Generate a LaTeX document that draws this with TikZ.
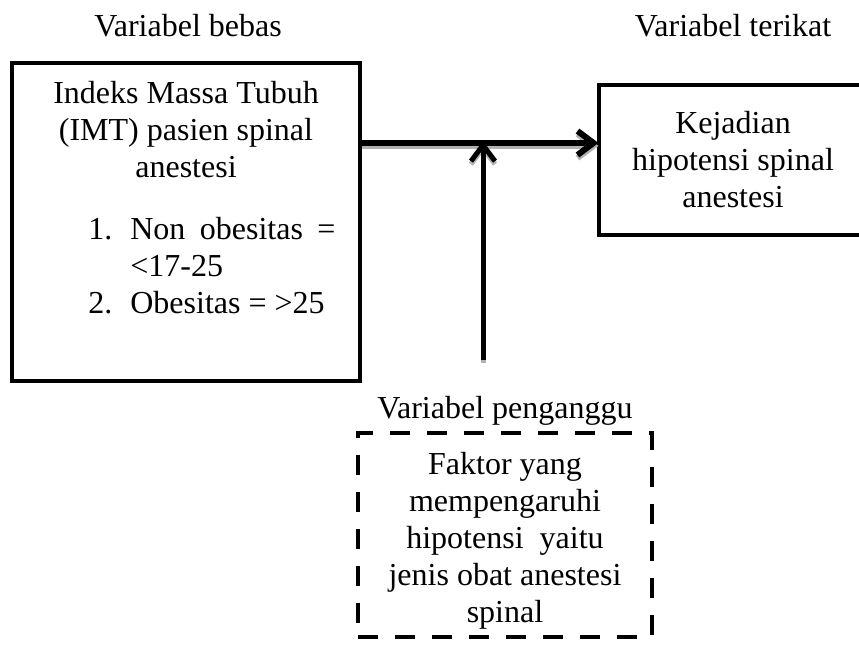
\documentclass[tikz,border=0pt]{standalone}
\usepackage{fontspec}
\setmainfont{Liberation Serif}
\usetikzlibrary{arrows.meta}
\begin{document}
\begin{tikzpicture}[x=.5pt, y=-.5pt, font=\fontsize{16}{18.5}\selectfont, line join=miter,
	kotak/.style={draw, line width=2pt, inner sep=0pt},
	putus/.style={draw, line width=2pt, dash pattern=on 10pt off 8.5pt, inner sep=0pt},
	teks/.style={align=center, inner sep=0pt},
	panah/.style={line width=2.5pt, -{Straight Barb[length=8pt,width=12pt]}},
	bayang/.style={panah, draw=gray!60, transform canvas={yshift=-1.5pt}}]
	\useasboundingbox (0,0) rectangle (859,651);
	% judul variabel
	\node[anchor=base] (bebas) at (188,37) {Variabel bebas};
	\node[anchor=base] (terikat) at (733,37) {Variabel terikat};
	\node[anchor=base] (penganggu) at (505,419) {Variabel penganggu};
	% kotak kiri
	\node[kotak, minimum width=174pt, minimum height=159pt] (imt) at (186,222) {};
	\node[teks, anchor=north] (imtjudul) at (186,81) {Indeks Massa Tubuh\\(IMT) pasien spinal\\anestesi};
	\node[inner sep=0pt, anchor=base west] (imtdaftar) at (88,240) {\begin{tabular}[t]{@{}l@{\hspace{9pt}}l@{}}
		1. & \makebox[102.5pt][s]{Non obesitas =}\\
		   & <17-25\\
		2. & Obesitas = >25
	\end{tabular}};
	% kotak kanan
	\node[kotak, teks, minimum width=134.5pt, minimum height=75pt] (kejadian) at (733,160) {Kejadian\\hipotensi spinal\\anestesi};
	% kotak putus-putus
	\node[putus, minimum width=147pt, minimum height=102pt] (faktor) at (505,535) {};
	\node[teks] (faktorteks) at (505,541) {Faktor yang\\mempengaruhi\\hipotensi\ \ yaitu\\jenis obat anestesi\\spinal};
	% panah
	\coordinate (garis) at (0,143);
	\coordinate (bawah) at (483,360);
	\coordinate (temu) at (483,141);
	\draw[bayang, line width=3pt] (imt.east |- garis) -- ([xshift=1pt]kejadian.west |- garis);
	\draw[panah, line width=3pt] (imt.east |- garis) -- ([xshift=1pt]kejadian.west |- garis);
	\draw[bayang] (bawah) -- (temu);
	\draw[panah] (bawah) -- (temu);
\end{tikzpicture}
\end{document}
